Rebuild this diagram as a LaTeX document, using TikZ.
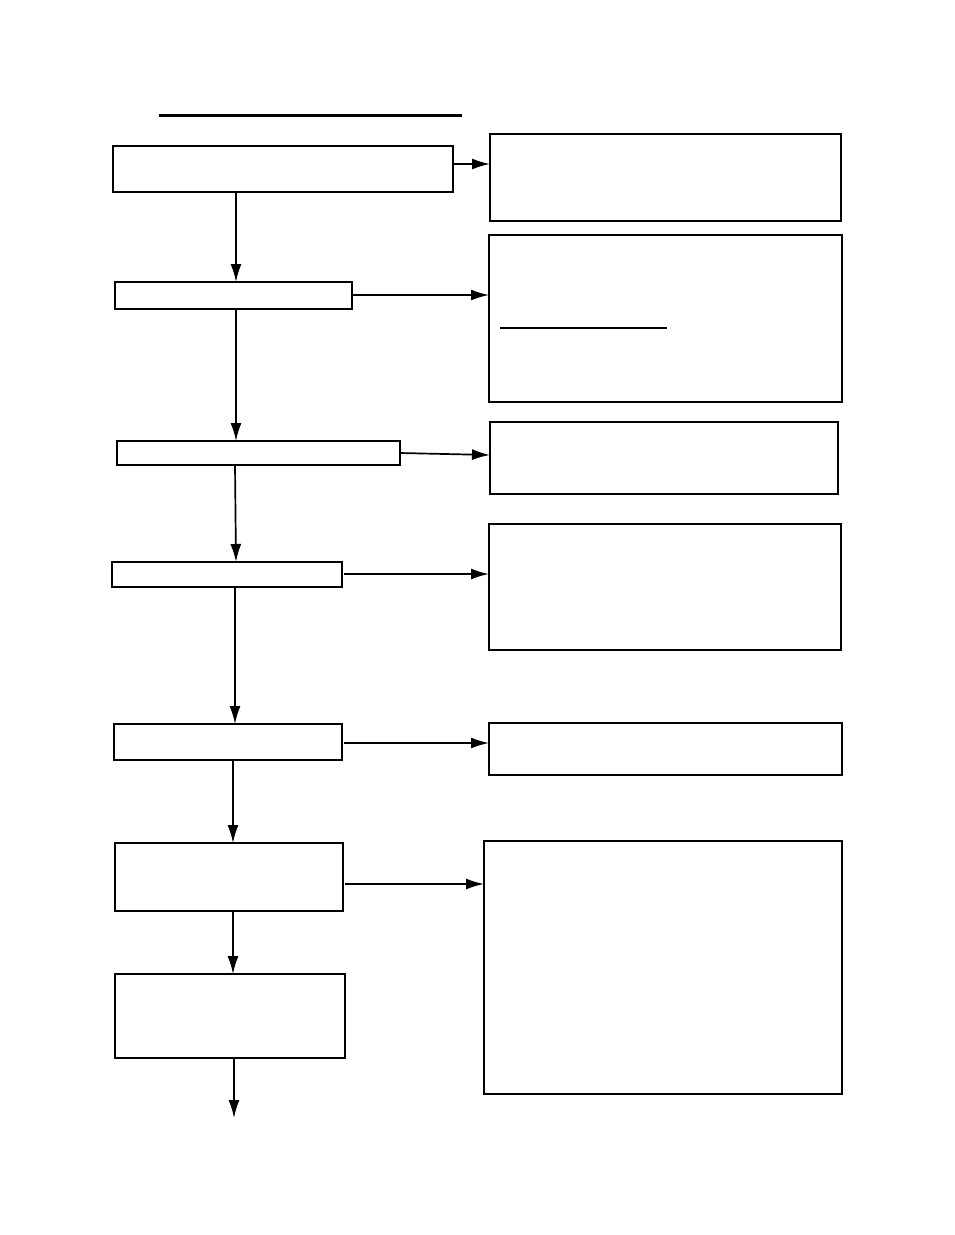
\documentclass[tikz,border=0pt]{standalone}
\usepackage{tikz}
\usetikzlibrary{arrows.meta}
\tikzset{
  flowbox/.style={draw, line width=1.8pt, inner sep=0pt, outer sep=0pt, anchor=north west},
  flowarrow/.style={line width=1.7pt, -{Latex[length=18pt,width=11pt]}}
}

\begin{document}
\begin{tikzpicture}[x=1pt,y=-1pt]
\useasboundingbox (0,0) rectangle (954,1235);
\draw[line width=3pt] (159,115) -- (462,115);
\node[flowbox, minimum width=340pt, minimum height=46pt] (l1) at (113,146) {};
\node[flowbox, minimum width=237pt, minimum height=27pt] (l2) at (115,282) {};
\node[flowbox, minimum width=283pt, minimum height=24pt] (l3) at (117,441) {};
\node[flowbox, minimum width=230pt, minimum height=25pt] (l4) at (112,562) {};
\node[flowbox, minimum width=228pt, minimum height=36pt] (l5) at (114,724) {};
\node[flowbox, minimum width=228pt, minimum height=68pt] (l6) at (115,843) {};
\node[flowbox, minimum width=230pt, minimum height=84pt] (l7) at (115,974) {};
\node[flowbox, minimum width=351pt, minimum height=87pt] (r1) at (490,134) {};
\node[flowbox, minimum width=353pt, minimum height=167pt] (r2) at (489,235) {};
\node[flowbox, minimum width=348pt, minimum height=72pt] (r3) at (490,422) {};
\node[flowbox, minimum width=352pt, minimum height=126pt] (r4) at (489,524) {};
\node[flowbox, minimum width=353pt, minimum height=52pt] (r5) at (489,723) {};
\node[flowbox, minimum width=358pt, minimum height=253pt] (r6) at (484,841) {};
\draw[line width=1.5pt] (500,328) -- (667,328);
\coordinate (out) at (234,1118);
\draw[flowarrow] (l1.south -| 236,0) -- (l2.north -| 236,0);
\draw[flowarrow] (l2.south -| 236,0) -- (l3.north -| 236,0);
\draw[flowarrow] (l3.south -| 235,0) -- (l4.north -| 236,0);
\draw[flowarrow] (l4.south -| 235,0) -- (l5.north -| 235,0);
\draw[flowarrow] (l5.south -| 233,0) -- (l6.north -| 233,0);
\draw[flowarrow] (l6.south -| 233,0) -- (l7.north -| 233,0);
\draw[flowarrow] (l7.south -| 234,0) -- (out);
\draw[flowarrow] (l1.east |- 0,164) -- (r1.west |- 0,164);
\draw[flowarrow] (l2.east |- 0,295) -- (r2.west |- 0,295);
\draw[flowarrow] (l3.east |- 0,453) -- (r3.west |- 0,455);
\draw[flowarrow] ([xshift=2pt]l4.east |- 0,574) -- (r4.west |- 0,574);
\draw[flowarrow] ([xshift=2pt]l5.east |- 0,743) -- (r5.west |- 0,743);
\draw[flowarrow] ([xshift=2pt]l6.east |- 0,884) -- (r6.west |- 0,884);
\end{tikzpicture}
\end{document}
